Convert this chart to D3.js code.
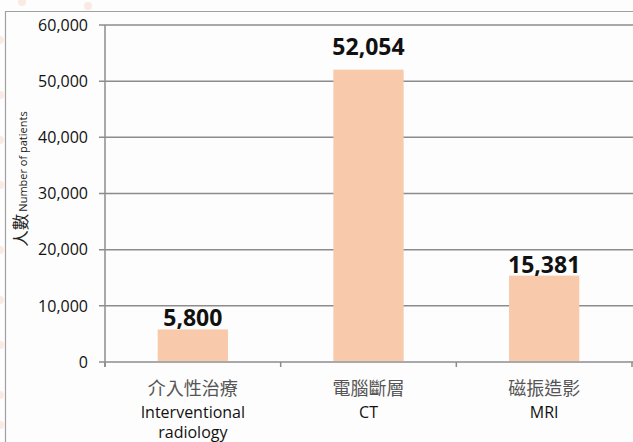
<!DOCTYPE html>
<html><head><meta charset="utf-8">
<script src="https://cdn.jsdelivr.net/npm/d3@7"></script>
<style>html,body{margin:0;padding:0;background:#fdfdfd;}svg{display:block;}</style>
</head><body>
<svg id="c" width="633" height="442"></svg>
<script>
const categoriesZh = ["介入性治療", "電腦斷層", "磁振造影"];
const categoriesEn = [["Interventional", "radiology"], ["CT"], ["MRI"]];
const values = [5800, 52054, 15381];
const yTicks = [0, 10000, 20000, 30000, 40000, 50000, 60000];
const yTitleZh = "人數";
const yTitleEn = "Number of patients";

const svg = d3.select("#c");
const W = 633, H = 442;
const m = {left:105, right:1, top:25, bottom:80};
const x = d3.scaleBand().domain(d3.range(values.length)).range([m.left, 632]).paddingInner(0.6).paddingOuter(0.3);
const y = d3.scaleLinear().domain([0, 60000]).range([362, 25]);
const fmt = d3.format(",");

// faint decorative background blobs at the left edge (watermark remnants)
const blobG = svg.append("g").attr("fill","#f7c9b4").attr("opacity",0.35);
[[0,40],[0,95],[0,140],[0,185],[0,250],[0,300],[0,345],[0,395],[0,425],[22,2],[88,6]].forEach(p=>{
  blobG.append("circle").attr("cx",p[0]).attr("cy",p[1]).attr("r",4);
});

// chart frame
svg.append("path").attr("d", `M5.5,${H} V11.5 H${W}`).attr("fill","none").attr("stroke","#a0a0a0").attr("stroke-width",1.2);

// gridlines
svg.append("g").selectAll("line").data(yTicks).join("line")
  .attr("x1", m.left-6).attr("x2", W).attr("y1", d=>y(d)).attr("y2", d=>y(d))
  .attr("stroke","#8c8c8c").attr("stroke-width",1.5);

// y axis line
svg.append("line").attr("x1",m.left).attr("x2",m.left).attr("y1",y(60000)).attr("y2",y(0)+5)
  .attr("stroke","#8c8c8c").attr("stroke-width",1.5);

// y tick labels
svg.append("g").selectAll("text").data(yTicks).join("text")
  .attr("x", 88).attr("y", d=>y(d)).attr("dy","0.36em").attr("text-anchor","end")
  .attr("font-family","Open Sans").attr("font-size",16).attr("fill","#111").text(d=>fmt(d));

// category ticks
const bounds = d3.range(values.length+1).map(i => m.left + i*(632-m.left)/values.length);
svg.append("g").selectAll("line").data(bounds).join("line")
  .attr("x1", d=>d).attr("x2", d=>d).attr("y1", y(0)).attr("y2", y(0)+5)
  .attr("stroke","#8c8c8c").attr("stroke-width",1.5);

// bars
svg.append("g").selectAll("rect").data(values).join("rect")
  .attr("x",(d,i)=>x(i)).attr("width",x.bandwidth())
  .attr("y",d=>y(d)).attr("height",d=>y(0)-y(d)-1)
  .attr("fill","#f8caab");

// value labels (the tallest bar's label sits a bit higher, as in the source)
const maxV = d3.max(values);
svg.append("g").selectAll("text").data(values).join("text")
  .attr("x",(d,i)=>x(i)+x.bandwidth()/2).attr("y",d=>y(d)-(d===maxV?14.5:3))
  .attr("text-anchor","middle").attr("font-family","Open Sans").attr("font-weight","bold")
  .attr("font-size",23).attr("fill","#111").text(d=>fmt(d));

// category labels
const cg = svg.append("g").selectAll("g").data(values).join("g")
  .attr("transform",(d,i)=>`translate(${x(i)+x.bandwidth()/2},0)`);
cg.append("text").attr("y",395).attr("text-anchor","middle")
  .attr("font-family","Noto Sans CJK TC").attr("font-size",18).attr("fill","#555")
  .text((d,i)=>categoriesZh[i]);
cg.each(function(d,i){
  d3.select(this).selectAll("text.en").data(categoriesEn[i]).join("text").attr("class","en")
    .attr("y",(t,j)=>418+j*20).attr("text-anchor","middle")
    .attr("font-family","Open Sans").attr("font-size",16).attr("fill","#111").text(t=>t);
});

// y title
const yt = svg.append("text").attr("transform","translate(27,179) rotate(-90)").attr("text-anchor","middle");
yt.append("tspan").attr("font-family","Noto Sans CJK TC").attr("font-size",16.5).attr("fill","#222").text(yTitleZh);
yt.append("tspan").attr("font-family","Open Sans").attr("font-size",11).attr("fill","#222").attr("dx",2).text(yTitleEn);
</script>
</body></html>
